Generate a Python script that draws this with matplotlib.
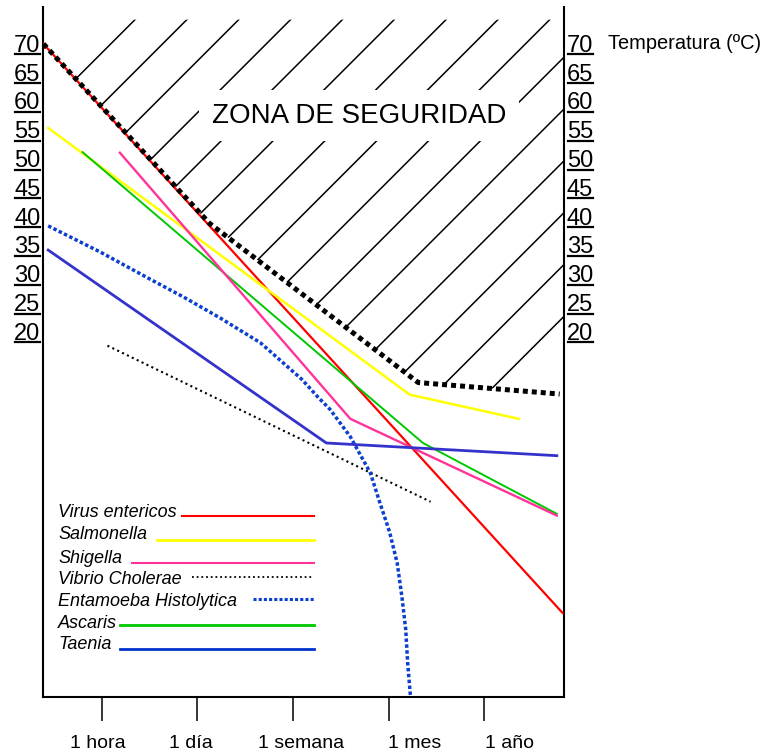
import matplotlib
matplotlib.use("Agg")
import matplotlib.pyplot as plt
import matplotlib.patches as mpatches
from matplotlib.lines import Line2D
from matplotlib.transforms import IdentityTransform, offset_copy

plt.rcParams["font.family"] = ["Liberation Sans", "DejaVu Sans"]

# ── data (x: 1 = 1 hora ... 5 = 1 año, y: temperatura ºC) ─────────────────────
time_ticks  = [1, 2, 3, 4, 5]
time_labels = ["1 hora", "1 día", "1 semana", "1 mes", "1 año"]
time_label_x = [0.96, 1.93, 3.08, 4.27, 5.26]
temp_labels = [70, 65, 60, 55, 50, 45, 40, 35, 30, 25, 20]

virus_x = [0.39, 5.82]
virus_y = [70.0, -28.8]
salm_x = [0.44, 4.22, 5.36]
salm_y = [55.4, 9.1, 4.9]
shig_x = [1.19, 3.60, 5.76]
shig_y = [51.1, 4.9, -11.9]
vib_x = [1.06, 4.44]
vib_y = [17.6, -9.5]
ent_x = [0.44, 0.98, 1.50, 1.85, 2.24, 2.66, 3.09, 3.26, 3.39, 3.60,
         3.81, 3.91, 4.01, 4.09, 4.14, 4.18, 4.20, 4.23]
ent_y = [38.4, 33.9, 29.2, 26.1, 22.4, 18.1, 11.8, 8.7, 6.5, 1.8,
         -4.5, -9.7, -14.7, -20.1, -26.0, -31.7, -37.5, -43.4]
asc_x = [0.80, 4.36, 5.76]
asc_y = [51.2, 0.7, -11.6]
tae_x = [0.44, 3.35, 5.76]
tae_y = [34.2, 0.7, -1.5]
safe_x = [0.39, 2.13, 4.31, 5.79]
safe_y = [70.0, 38.8, 11.2, 9.2]

# ── styles ────────────────────────────────────────────────────────────────────
C_RED    = "#ff0000"
C_YELLOW = "#ffff00"
C_PINK   = "#ff3399"
C_BLUE_D = "#0a3fd0"
C_GREEN  = "#00c800"
C_TAENIA = "#3333cc"

XLIM = (0.386, 5.83)
YLIM = (-43.4, 76.4)

fig = plt.figure(figsize=(7.66, 7.53), dpi=100)
ax = fig.add_axes([43 / 766, 56 / 753, 520.5 / 766, 690 / 753])
ax.set_xlim(*XLIM)
ax.set_ylim(*YLIM)

for s in ["left", "right", "bottom"]:
    ax.spines[s].set_linewidth(1.5)
ax.spines["top"].set_visible(False)
ax.set_yticks([])
ax.set_xticks(time_ticks)
ax.set_xticklabels([])
ax.tick_params(axis="x", direction="out", length=17, width=1.1, color="black")

# ── hatch (zona de seguridad) ─────────────────────────────────────────────────
x0, x1 = XLIM
px_x = ax.bbox.width / (x1 - x0)
px_y = ax.bbox.height / (YLIM[1] - YLIM[0])
k = px_x / px_y
top_clip = 74.2
clip = mpatches.Polygon(
    list(zip(safe_x, safe_y)) + [(x1, 9.0), (x1, top_clip), (x0, top_clip)],
    closed=True, transform=ax.transData)
for i in range(15):
    yr = 22.6 + 9.0 * i
    ln, = ax.plot([x0, x1], [yr - k * (x1 - x0), yr], color="black", lw=1.1, zorder=1)
    ln.set_clip_path(clip)

ax.text(3.69, 57.5, "ZONA DE SEGURIDAD", fontsize=20, ha="center", va="center",
        zorder=3, bbox=dict(boxstyle="square,pad=0.45", fc="white", ec="none"))

# ── series ────────────────────────────────────────────────────────────────────
ax.plot(virus_x, virus_y, color=C_RED, lw=1.6, zorder=4)
ax.plot(salm_x, salm_y, color=C_YELLOW, lw=1.8, zorder=4)
ax.plot(asc_x, asc_y, color=C_GREEN, lw=1.4, zorder=4)
ax.plot(shig_x, shig_y, color=C_PINK, lw=1.7, zorder=4)
ax.plot(vib_x, vib_y, color="black", lw=1.5, ls=(0, (1, 1.6)), zorder=4)
ax.plot(ent_x, ent_y, color=C_BLUE_D, lw=2.5, ls=(0, (1, 0.7)), zorder=4)
ax.plot(tae_x, tae_y, color=C_TAENIA, lw=2.0, zorder=4)
ax.plot(safe_x, safe_y, color="black", lw=3.6, ls=(0, (1, 0.8)),
        solid_capstyle="butt", zorder=5)

# ── legend (drawn by hand) ────────────────────────────────────────────────────
leg_names  = ["Virus entericos", "Salmonella", "Shigella", "Vibrio Cholerae",
              "Entamoeba Histolytica", "Ascaris", "Taenia"]
leg_colors = [C_RED, C_YELLOW, C_PINK, "black", C_BLUE_D, C_GREEN, "#0033cc"]
leg_styles = ["-", "-", "-", (0, (1, 1.6)), (0, (1, 0.7)), "-", "-"]
leg_widths = [1.5, 2.0, 1.5, 1.3, 2.2, 2.0, 2.0]
leg_text_y = [0.2667, 0.2348, 0.2014, 0.1710, 0.1390, 0.1072, 0.0768]
leg_line_y = [0.2623, 0.2275, 0.1942, 0.1739, 0.1420, 0.1043, 0.0696]
leg_line_x = [0.267, 0.219, 0.171, 0.286, 0.403, 0.148, 0.148]
for name, c, st, w, ty, ly, lx in zip(leg_names, leg_colors, leg_styles, leg_widths,
                                      leg_text_y, leg_line_y, leg_line_x):
    ax.text(0.0288, ty, name, transform=ax.transAxes, fontsize=13,
            fontstyle="italic", ha="left", va="center")
    ax.plot([lx, 0.521], [ly, ly], transform=ax.transAxes, color=c, ls=st, lw=w,
            clip_on=False)

# ── axis texts ────────────────────────────────────────────────────────────────
for lab, xp in zip(time_labels, time_label_x):
    ax.text(xp, -0.0667, lab, transform=ax.get_xaxis_transform(), fontsize=14,
            ha="center", va="center")

ax.text(1.0855, 70, "Temperatura (ºC)", transform=ax.get_yaxis_transform(),
        fontsize=14.4, ha="left", va="center")

ytrans = offset_copy(ax.get_yaxis_transform(), fig=fig, y=-8, units="dots")
temp_texts = []
for v in temp_labels:
    for xa, ha in [(-0.005, "right"), (1.0067, "left")]:
        t = ax.text(xa, v, str(v), transform=ytrans, fontsize=17,
                    ha=ha, va="baseline")
        temp_texts.append((t, xa, v))

fig.canvas.draw()
renderer = fig.canvas.get_renderer()
for t, xa, v in temp_texts:
    bb = t.get_window_extent(renderer)
    yb = ytrans.transform((xa, v))[1] - 2.5
    fig.add_artist(Line2D([bb.x0 + 1, bb.x1 - 0.5], [yb, yb], color="black",
                          lw=1.6, transform=IdentityTransform()))

fig.savefig("out.png", dpi=100)
